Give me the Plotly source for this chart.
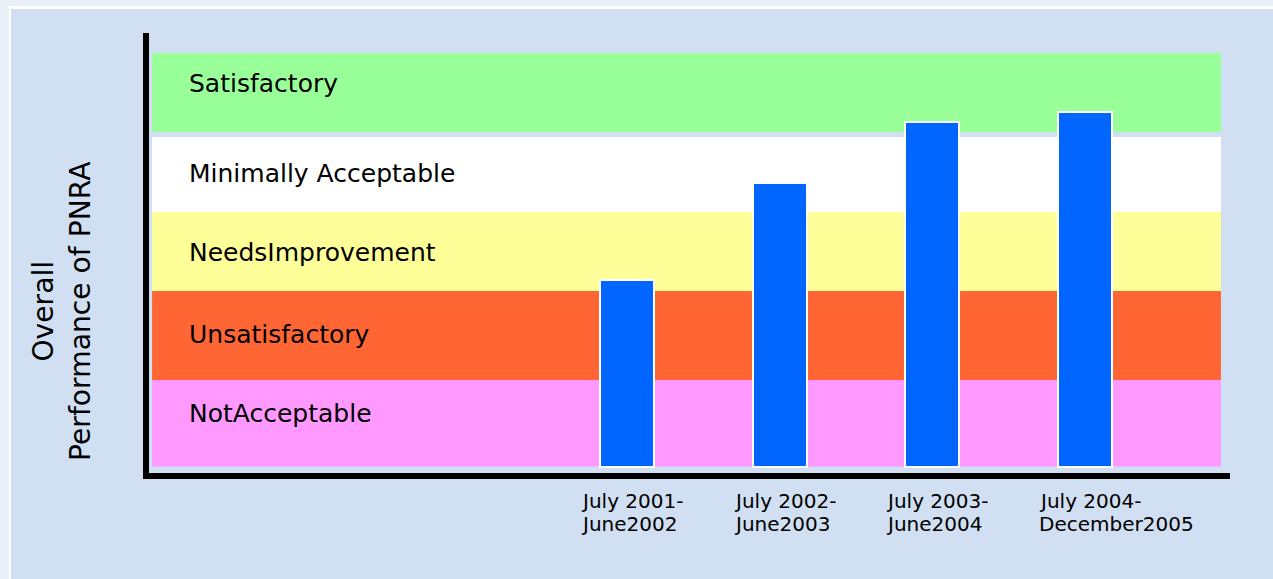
import plotly.graph_objects as go

# ---- data ----
periods = ["July 2001-<br>June2002", "July 2002-<br>June2003",
           "July 2003-<br>June2004", "July 2004-<br>December2005"]
performance = [2.255, 3.428, 4.166, 4.287]

band_names = ["NotAcceptable", "Unsatisfactory", "NeedsImprovement",
              "Minimally Acceptable", "Satisfactory"]
band_low = [0.0, 1.046, 2.122, 3.077, 4.045]
band_high = [1.046, 2.122, 3.077, 3.984, 5.0]
band_label_y = [0.635, 1.602, 2.582, 3.549, 4.637]
band_colors = ["#FF99FF", "#FF6633", "#FFFF99", "#FFFFFF", "#99FF99"]

W, H = 1273, 579
OUTER = "#E9F0F8"
PANEL = "#D0DFF1"
FONT = "DejaVu Sans"

fig = go.Figure()
fig.add_trace(go.Bar(
    x=periods, y=performance, width=0.3537,
    marker=dict(color="#0066FF", line=dict(color="#FFFFFF", width=2)),
    hoverinfo="skip",
))

shapes = [
    dict(type="rect", xref="paper", yref="paper", x0=9 / W, x1=1.01, y0=-0.01,
         y1=(H - 6) / H, fillcolor="#FFFFFF", line=dict(width=0), layer="below"),
    dict(type="rect", xref="paper", yref="paper", x0=11 / W, x1=1.01, y0=-0.01,
         y1=(H - 9) / H, fillcolor=PANEL, line=dict(width=0), layer="below"),
]
x_left, x_right = -3.111, 3.891
for lo, hi, c in zip(band_low, band_high, band_colors):
    shapes.append(dict(type="rect", xref="x", yref="y", x0=x_left, x1=x_right,
                       y0=lo, y1=hi, fillcolor=c, line=dict(width=0), layer="below"))

annotations = []
for name, yl in zip(band_names, band_label_y):
    annotations.append(dict(text=name, xref="paper", yref="y", x=187 / W, y=yl,
                            xanchor="left", yanchor="middle", showarrow=False,
                            font=dict(family=FONT, size=25, color="#000000")))

for p in periods:
    l1, l2 = p.split("<br>")
    for txt, ypix in ((l1, 501), (l2, 524)):
        annotations.append(dict(text=txt, xref="x", yref="paper", x=p,
                                y=(H - ypix) / H, xanchor="left", yanchor="middle",
                                xshift=-48, showarrow=False,
                                font=dict(family=FONT, size=20, color="#000000")))

annotations.append(dict(text="Overall<br>Performance of PNRA", textangle=-90,
                        xref="paper", yref="paper", x=62 / W, y=(H - 311) / H,
                        xanchor="center", yanchor="middle", showarrow=False,
                        font=dict(family=FONT, size=28.2, color="#000000")))

fig.update_layout(
    width=W, height=H, autosize=False,
    margin=dict(l=0, r=0, t=0, b=0),
    paper_bgcolor=OUTER, plot_bgcolor="rgba(0,0,0,0)",
    showlegend=False, bargap=0,
    shapes=shapes, annotations=annotations,
    xaxis=dict(domain=[149 / W, 1230 / W], range=[-3.131, 3.950],
               showticklabels=False, ticks="", showgrid=False, zeroline=False,
               showline=True, linecolor="#000000", linewidth=6),
    yaxis=dict(domain=[(H - 473) / H, (H - 33) / H], range=[-0.0786, 5.242],
               showticklabels=False, ticks="", showgrid=False, zeroline=False,
               showline=True, linecolor="#000000", linewidth=6),
)

fig.write_html("out.html",
               config={"displayModeBar": False},
               post_script="document.body.style.margin='0px';"
                           "document.body.style.overflow='hidden';")
